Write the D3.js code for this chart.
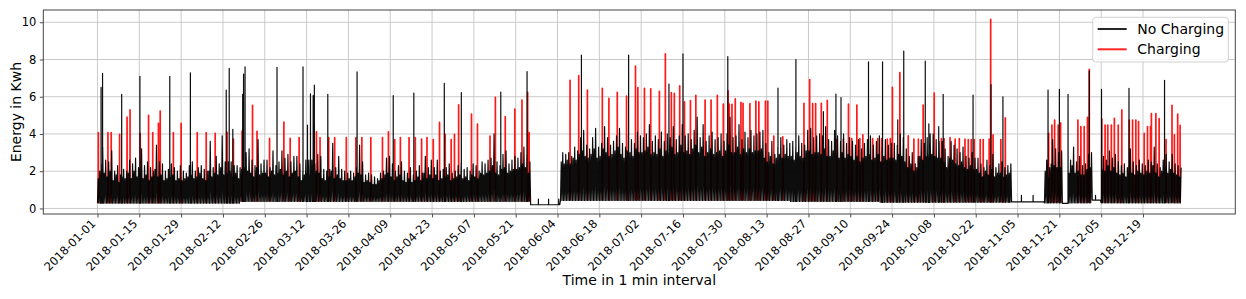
<!DOCTYPE html>
<html><head><meta charset="utf-8">
<script src="https://cdn.jsdelivr.net/npm/d3@7"></script>
<style>
body{margin:0;background:#fff}
svg text{font-family:"DejaVu Sans",sans-serif;fill:#000}
</style>
</head><body>
<svg id="chart" width="1246" height="299"></svg>
<script>
// ---------- data ----------
// x axis is a day index (0 = 2018-01-01); tick every 14 index units
const xTickLabels = ["2018-01-01","2018-01-15","2018-01-29","2018-02-12","2018-02-26","2018-03-12",
  "2018-03-26","2018-04-09","2018-04-23","2018-05-07","2018-05-21","2018-06-04","2018-06-18",
  "2018-07-02","2018-07-16","2018-07-30","2018-08-13","2018-08-27","2018-09-10","2018-09-24",
  "2018-10-08","2018-10-22","2018-11-05","2018-11-21","2018-12-05","2018-12-19"];
const yTickValues = [0, 2, 4, 6, 8, 10];

// daily highest excursion of the dense "No Charging" band (kWh), one value per day index
const noChargingDailyTop = [
  2.0,3.3,2.6,2.5,3.1,2.0,2.3,1.8,2.1,2.0,2.6,2.4,2.7,2.2,
  3.2,2.3,2.5,2.2,2.0,3.4,2.5,2.4,2.0,2.1,2.4,2.2,2.0,2.3,
  2.0,1.9,2.3,2.5,2.0,2.2,2.3,2.1,2.0,3.6,2.2,2.8,2.4,3.9,
  2.5,2.5,2.5,2.3,2.3,2.2,3.5,3.0,3.2,2.6,2.3,3.7,2.4,2.6,
  2.6,2.2,3.1,2.3,2.5,3.1,2.7,2.9,2.5,2.8,2.8,2.4,2.0,2.6,
  2.6,2.6,2.4,2.9,2.8,2.1,2.0,2.1,3.5,2.2,2.8,2.1,2.0,1.9,
  2.0,1.9,2.2,3.4,2.5,1.8,1.9,1.8,1.7,1.6,1.9,2.0,2.7,2.8,
  2.4,2.0,2.3,2.5,2.0,1.9,2.2,1.8,2.0,2.3,1.9,2.8,2.2,2.6,
  2.2,2.6,2.0,2.1,2.2,2.4,1.9,2.0,2.3,2.5,2.1,2.2,2.0,2.4,
  2.3,2.0,2.5,2.4,2.6,2.7,4.0,2.5,2.3,2.9,3.1,2.4,2.6,2.8,
  2.7,3.0,3.3,2.9,2.5,0.2,0.2,0.2,0.2,0.2,0.2,0.2,0.2,0.2,
  0.2,3.0,2.9,3.0,2.8,3.3,3.1,3.8,4.2,3.4,3.2,3.8,4.3,3.3,
  3.5,4.4,3.8,3.4,3.6,3.9,4.3,3.5,3.3,4.0,3.7,3.5,4.1,3.9,
  3.8,4.0,4.5,3.6,3.9,3.7,4.1,3.6,4.0,3.8,4.4,3.7,3.9,4.5,
  3.9,4.0,3.7,4.2,4.9,3.8,4.5,3.6,3.9,4.1,3.7,3.8,4.0,3.6,
  4.0,4.9,3.8,3.9,4.5,3.7,4.1,3.8,4.2,3.9,4.0,4.1,4.2,3.5,
  3.0,3.6,2.9,3.3,3.8,3.4,3.7,3.5,3.6,3.3,3.9,3.5,3.4,4.2,
  4.3,3.8,3.9,4.0,3.9,4.4,3.7,3.6,4.2,3.9,3.6,4.0,3.5,3.8,
  3.6,3.4,3.7,3.2,3.5,3.7,3.9,3.4,3.6,3.9,3.3,3.7,3.4,3.5,
  3.5,3.4,4.0,3.8,3.2,2.8,3.0,2.4,2.8,3.7,3.5,3.8,4.0,4.0,
  3.7,3.6,3.6,3.2,2.8,3.6,3.4,3.2,3.0,3.3,2.8,2.7,3.0,2.7,
  2.7,2.4,2.2,2.6,2.3,2.9,2.2,2.4,2.5,2.2,2.3,2.4,0.35,0.35,
  0.35,0.35,0.35,0.35,0.35,0.35,0.35,0.35,0.35,2.6,2.2,3.7,3.2,3.0,
  3.1,0.27,0.27,2.6,3.3,2.5,2.8,2.3,2.4,2.9,3.0,0.45,0.45,0.45,
  2.8,2.6,3.1,2.7,2.9,2.5,2.3,2.4,2.2,3.2,2.5,2.3,2.6,2.4,
  2.3,2.6,2.5,3.3,2.4,2.2,2.6,2.9,2.5,2.9,2.4,2.3,2.2
];
// daily second excursion of the "No Charging" band (kWh), one value per day index
const noChargingDailySecond = [
  1.6,2.4,1.9,1.7,2.0,1.5,1.8,1.4,1.7,1.6,1.9,1.6,2.0,1.7,
  1.9,1.6,1.8,1.5,1.7,2.1,1.7,1.8,1.5,1.6,1.7,1.8,1.5,1.6,
  1.5,1.6,1.7,1.8,1.6,1.7,1.9,1.6,1.5,2.0,1.7,1.9,1.8,2.2,
  1.8,1.9,2.0,1.7,1.9,1.6,2.1,2.2,2.0,1.9,1.7,2.2,1.8,1.9,
  1.9,1.7,2.0,1.8,1.9,2.1,1.8,2.0,1.7,1.9,2.0,1.7,1.5,1.8,
  1.9,1.8,1.7,2.0,1.9,1.6,1.5,1.7,2.0,1.6,1.8,1.6,1.5,1.5,
  1.6,1.5,1.7,1.9,1.8,1.4,1.5,1.4,1.3,1.3,1.5,1.6,1.8,1.9,
  1.7,1.5,1.7,1.8,1.5,1.4,1.6,1.4,1.5,1.7,1.5,1.9,1.6,1.8,
  1.6,1.8,1.5,1.6,1.7,1.8,1.5,1.6,1.7,1.8,1.6,1.7,1.5,1.8,
  1.7,1.6,1.9,1.8,1.9,2.0,2.3,1.9,1.8,2.1,2.2,1.9,2.0,2.1,
  2.1,2.2,2.4,2.2,1.9,0.2,0.2,0.2,0.2,0.2,0.2,0.2,0.2,0.2,
  0.2,2.5,2.4,2.6,2.4,2.7,2.6,2.9,3.1,2.8,2.7,2.9,3.2,2.7,
  2.8,3.2,3.0,2.8,2.9,3.1,3.3,2.9,2.7,3.1,3.0,2.8,3.2,3.0,
  3.0,3.1,3.3,2.9,3.0,2.9,3.2,2.8,3.1,3.0,3.3,2.9,3.0,3.4,
  3.0,3.1,2.9,3.2,3.4,3.0,3.3,2.8,3.0,3.2,2.9,3.0,3.1,2.8,
  3.1,3.4,3.0,3.0,3.3,2.9,3.2,3.0,3.2,3.0,3.1,3.1,3.2,2.7,
  2.5,2.8,2.4,2.7,2.9,2.7,2.9,2.8,2.8,2.6,3.0,2.8,2.7,3.1,
  3.1,2.9,3.0,3.0,2.9,3.2,2.8,2.8,3.1,2.9,2.7,3.0,2.7,2.9,
  2.8,2.6,2.8,2.5,2.7,2.8,2.9,2.6,2.7,2.9,2.5,2.8,2.6,2.7,
  2.7,2.6,2.9,2.8,2.5,2.2,2.4,2.0,2.2,2.8,2.6,2.8,2.9,2.9,
  2.8,2.7,2.7,2.5,2.2,2.7,2.6,2.4,2.3,2.5,2.2,2.1,2.3,2.1,
  2.1,1.9,1.7,2.0,1.8,2.1,1.7,1.9,1.9,1.7,1.8,1.9,0.35,0.35,
  0.35,0.35,0.35,0.35,0.35,0.35,0.35,0.35,0.35,2.0,1.7,2.4,2.3,2.2,
  2.2,0.27,0.27,1.9,2.3,1.9,2.0,1.8,1.8,2.1,2.2,0.45,0.45,0.45,
  2.1,2.0,2.3,2.0,2.2,1.9,1.8,1.9,1.7,2.3,1.9,1.8,2.0,1.9,
  1.8,2.0,1.9,2.3,1.9,1.7,2.0,2.2,1.9,2.1,1.9,1.8,1.7
];
// night-time floor of the "No Charging" series: [from day index, kWh]
const noChargingFloor = [[0,0.28],[48,0.38],[145,0.2],[155,0.43],[232,0.38],[262,0.33],
  [306,0.35],[317,0.3],[323,0.27],[325,0.3],[333,0.45],[336,0.3]];
// isolated peaks of the "No Charging" series: [day index, kWh]
const noChargingPeaks = [[1.2,6.5],[1.7,7.25],[8.1,6.13],[14.2,7.1],[24.2,7.1],[31.1,7.28],
  [43.1,6.36],[44.1,7.53],[45.3,4.25],[48.6,6.13],[48.9,7.22],[49.4,7.6],[60.1,7.58],[68.8,7.6],
  [70.3,4.48],[71.3,6.15],[72.2,6.06],[72.6,6.63],[77.1,6.13],[86.9,7.33],[99.0,6.06],[105.9,6.2],
  [116.1,6.72],[121.8,6.22],[135.0,6.25],[143.8,7.35],[147.6,0.5],[151.0,0.5],[154.4,0.5],
  [162.0,8.23],[177.8,8.23],[191.3,6.68],[196.0,8.3],[211.0,8.15],[227.8,6.47],[233.8,8.0],
  [243.0,5.2],[247.2,6.14],[248.9,5.96],[258.1,7.88],[262.8,7.88],[267.9,4.76],[269.9,8.45],
  [277.1,7.92],[278.3,4.55],[281.6,4.4],[283.1,6.13],[293.1,6.09],[299.1,6.65],[303.1,6.0],
  [305.4,0.7],[309.3,0.7],[313.2,0.7],[318.2,6.36],[322.0,6.4],[324.9,6.13],[332.0,7.38],
  [334.1,0.7],[336.1,6.4],[345.3,6.45],[357.2,6.88]];
// charging events of the "Charging" series: [day index, kWh]
const chargingPeaks = [[0.3,4.07],[3.5,4.07],[4.6,4.07],[7.4,3.98],[9.9,4.9],[10.9,5.3],[14.3,4.03],
  [17.1,5.0],[18.5,4.07],[20.4,4.57],[21.0,5.23],[25.4,4.07],[28.0,4.57],[33.4,4.07],[36.4,4.07],
  [39.4,4.03],[43.4,4.09],[45.5,3.73],[48.4,4.16],[51.9,5.54],[53.4,4.14],[57.6,3.76],[62.4,4.64],
  [64.5,3.76],[67.5,3.8],[73.3,4.12],[74.5,3.8],[77.4,3.8],[79.4,3.8],[83.3,3.8],[86.5,3.8],
  [88.5,3.8],[91.5,3.8],[95.4,3.8],[97.4,4.12],[99.5,3.7],[101.4,3.8],[104.3,3.8],[106.4,3.8],
  [108.5,3.73],[110.3,3.8],[112.4,3.7],[114.5,4.62],[116.4,3.98],[118.4,3.7],[119.5,3.98],
  [120.9,5.56],[125.2,5.07],[127.2,4.53],[131.4,3.89],[133.2,5.97],[136.5,4.93],[139.7,5.34],
  [142.1,5.82],[144.0,6.24],[144.5,4.07],
  [158.2,6.88],[161.1,7.13],[164.0,6.36],[169.0,6.45],[171.2,5.91],[174.0,6.24],[177.1,6.04],
  [180.1,7.65],[180.9,6.49],[183.1,6.45],[185.2,6.43],[188.1,6.29],[190.1,8.3],[192.1,6.22],
  [193.1,6.18],[194.9,6.58],[196.5,5.73],[198.5,5.79],[200.3,6.08],[203.4,5.82],[205.4,5.82],
  [207.5,6.08],[209.5,5.61],[211.1,6.31],[211.5,5.61],[212.4,5.59],[213.5,5.88],[215.4,5.7],
  [216.1,5.65],[218.4,5.63],[220.4,5.77],[221.4,5.72],[223.6,5.77],[224.4,5.77],[226.4,3.89],
  [229.4,3.85],[236.5,5.65],[238.4,6.92],[239.4,5.63],[240.4,5.63],[242.3,5.64],[244.3,5.8],
  [247.5,3.7],[249.7,3.73],[251.4,5.6],[252.5,3.75],[254.2,5.55],[255.2,3.75],[256.2,3.95],
  [259.5,3.75],[261.2,3.75],[262.5,3.75],[264.4,3.72],[265.4,3.75],[266.1,6.5],[268.6,7.3],
  [271.4,3.9],[273.3,3.72],[274.8,3.72],[276.4,5.55],[280.1,6.2],[282.5,3.75],[283.4,3.75],
  [285.4,3.8],[287.1,3.72],[288.5,3.75],[290.4,3.72],[291.5,3.7],[292.5,3.7],[293.5,3.7],
  [295.5,3.7],[296.5,3.7],[298.5,3.72],[299.0,10.16],[299.8,3.95],[302.4,3.7],[303.9,4.87],
  [318.4,4.03],[319.5,4.48],[320.4,4.75],[321.6,4.48],[322.4,4.6],[328.2,4.75],[329.2,4.39],
  [330.3,4.39],[331.4,4.89],[332.0,7.47],[336.2,4.8],[337.3,4.48],[338.2,4.48],[339.4,4.48],
  [340.4,4.84],[341.7,4.48],[342.9,5.29],[345.4,4.75],[346.5,4.75],[347.6,4.75],[348.5,4.66],
  [350.4,4.03],[351.5,4.39],[352.5,4.39],[352.8,5.1],[354.3,5.1],[355.4,4.82],[357.7,3.7],
  [359.7,5.54],[360.5,3.95],[361.6,5.07],[362.4,4.46]];
const seriesNames = ["No Charging", "Charging"];
const seriesColors = ["#000000", "#ff0000"];

// ---------- build series points ----------
function floorAt(d) {
  let v = noChargingFloor[0][1];
  for (const [s, f] of noChargingFloor) if (s <= d) v = f;
  return v;
}
const blackPts = [];
noChargingDailyTop.forEach((t, d) => {
  const b = floorAt(d);
  blackPts.push([d, b], [d + 0.25, noChargingDailySecond[d]], [d + 0.5, b], [d + 0.75, t]);
});
noChargingPeaks.forEach(([d, v]) => { const b = floorAt(d); blackPts.push([d - 0.02, b], [d, v], [d + 0.02, b]); });
blackPts.sort((a, b) => a[0] - b[0]);

const redPts = [];
chargingPeaks.forEach(([d, v]) => { const b = floorAt(d); redPts.push([d - 0.02, b], [d, v], [d + 0.02, b], null); });

// ---------- layout ----------
const svg = d3.select("#chart");
const L = 43.3, R = 1235.3, T = 10, B = 214;
const allX = blackPts.map(p => p[0]).concat(redPts.filter(p => p).map(p => p[0]));
const allY = blackPts.map(p => p[1]).concat(redPts.filter(p => p).map(p => p[1]));
const [x0, x1] = d3.extent(allX), [y0, y1] = d3.extent(allY);
const xp = (x1 - x0) * 0.05, yp = (y1 - y0) * 0.05;
const x = d3.scaleLinear().domain([x0 - xp, x1 + xp]).range([L, R]);
const y = d3.scaleLinear().domain([y0 - yp, y1 + yp]).range([B, T]);
const xTickVals = xTickLabels.map((_, i) => i * 14);

// grid
const grid = svg.append("g");
grid.selectAll("line.gx").data(xTickVals).join("line")
  .attr("x1", d => x(d)).attr("x2", d => x(d)).attr("y1", T).attr("y2", B)
  .attr("stroke", "#c4c4c4").attr("stroke-width", 0.9);
grid.selectAll("line.gy").data(yTickValues).join("line")
  .attr("x1", L).attr("x2", R).attr("y1", d => y(d)).attr("y2", d => y(d))
  .attr("stroke", "#c4c4c4").attr("stroke-width", 0.9);

// series
svg.append("clipPath").attr("id", "clip").append("rect")
  .attr("x", L).attr("y", T).attr("width", R - L).attr("height", B - T);
const line = d3.line().defined(p => p).x(p => x(p[0])).y(p => y(p[1]));
const plot = svg.append("g").attr("clip-path", "url(#clip)");
plot.append("path").attr("d", line(redPts)).attr("fill", "none")
  .attr("stroke", seriesColors[1]).attr("stroke-opacity", 0.9).attr("stroke-width", 1.7)
  .attr("stroke-linejoin", "round");
plot.append("path").attr("d", line(blackPts)).attr("fill", "none")
  .attr("stroke", seriesColors[0]).attr("stroke-opacity", 0.95).attr("stroke-width", 1.2)
  .attr("stroke-linejoin", "round");

// axes
const xAxis = d3.axisBottom(x).tickValues(xTickVals).tickFormat((d, i) => xTickLabels[i])
  .tickSize(3.5).tickPadding(3.5);
const gx = svg.append("g").attr("transform", `translate(0,${B})`).call(xAxis);
gx.select(".domain").remove();
gx.selectAll(".tick line").attr("stroke", "#222").attr("stroke-width", 0.8);
gx.selectAll(".tick text")
  .attr("font-size", 11.5).attr("text-anchor", "end").attr("dy", "0.35em")
  .attr("y", 0)
  .attr("transform", `translate(-4.5,7.5) rotate(-45)`);

const yAxis = d3.axisLeft(y).tickValues(yTickValues).tickFormat(d3.format("d")).tickSize(3.5).tickPadding(3.5);
const gy = svg.append("g").attr("transform", `translate(${L},0)`).call(yAxis);
gy.select(".domain").remove();
gy.selectAll(".tick line").attr("stroke", "#222").attr("stroke-width", 0.8);
gy.selectAll(".tick text").attr("font-size", 11.5);

// frame
svg.append("rect").attr("x", L).attr("y", T).attr("width", R - L).attr("height", B - T)
  .attr("fill", "none").attr("stroke", "#444").attr("stroke-width", 1);

// labels
svg.append("text").attr("x", (L + R) / 2).attr("y", 285).attr("text-anchor", "middle")
  .attr("font-size", 14).text("Time in 1 min interval");
svg.append("text").attr("transform", `translate(21,${(T + B) / 2}) rotate(-90)`)
  .attr("text-anchor", "middle").attr("font-size", 14).text("Energy in Kwh");

// legend
const lg = svg.append("g");
lg.append("rect").attr("x", 1092.7).attr("y", 17.3).attr("width", 135.6).attr("height", 44.7)
  .attr("rx", 3).attr("fill", "#fff").attr("fill-opacity", 0.8).attr("stroke", "#d0d0d0").attr("stroke-width", 1);
seriesNames.forEach((name, i) => {
  const yy = 29 + i * 20.3;
  lg.append("line").attr("x1", 1097.7).attr("x2", 1126.7).attr("y1", yy).attr("y2", yy)
    .attr("stroke", seriesColors[i]).attr("stroke-opacity", 0.85).attr("stroke-width", 2);
  lg.append("text").attr("x", 1137.3).attr("y", yy).attr("dy", "0.35em").attr("font-size", 14).text(name);
});
</script>
</body></html>
